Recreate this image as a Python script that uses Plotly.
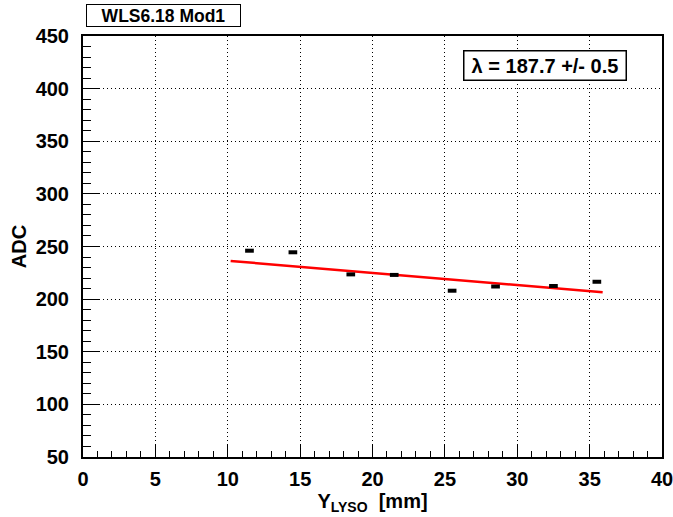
import plotly.graph_objects as go

# Data
y_pos = [11.5, 14.5, 18.5, 21.5, 25.5, 28.5, 32.5, 35.5]
adc = [246.0, 244.5, 223.5, 223.0, 208.0, 212.0, 212.5, 216.5]
x_err = [0.3] * 8
y_err = [1.0] * 8

fit_x = [10.2, 35.9]
fit_y = [236.3, 206.6]

title_text = "WLS6.18 Mod1"
fit_text = "λ = 187.7 +/- 0.5"

FONT = "Liberation Sans"

fig = go.Figure()

fig.add_trace(go.Scatter(
    x=fit_x, y=fit_y, mode="lines",
    line=dict(color="#ff0000", width=2.5),
    showlegend=False, hoverinfo="skip",
))

fig.add_trace(go.Scatter(
    x=y_pos, y=adc, mode="markers",
    marker=dict(size=1, color="black"),
    error_x=dict(type="data", array=x_err, color="black", thickness=4, width=0),
    error_y=dict(type="data", array=y_err, color="black", thickness=1.5, width=0),
    showlegend=False,
))

axis_common = dict(
    showline=True, linecolor="black", linewidth=2, mirror=True,
    ticks="inside", tickcolor="black", tickwidth=1,
    showgrid=True, gridcolor="black", griddash="1px,3px", gridwidth=1,
    zeroline=False, automargin=False, ticklabeloverflow="allow",
    tickfont=dict(family=FONT, size=20, color="black", weight="bold"),
)

fig.update_xaxes(
    range=[0, 40], tickmode="linear", tick0=0, dtick=5, ticklen=12,
    minor=dict(ticks="inside", dtick=1, ticklen=6, tickcolor="black", showgrid=False),
    title=dict(text="Y<sub>LYSO</sub>  [mm]", font=dict(family=FONT, size=20, color="black", weight="bold"), standoff=4),
    ticklabelstandoff=3,
    **axis_common,
)
fig.update_yaxes(
    range=[50, 450], tickmode="linear", tick0=50, dtick=50, ticklen=16,
    minor=dict(ticks="inside", dtick=10, ticklen=8, tickcolor="black", showgrid=False),
    title=dict(text="ADC", font=dict(family=FONT, size=20, color="black", weight="bold"), standoff=4),
    ticklabelstandoff=8,
    **axis_common,
)

fig.add_annotation(
    xref="paper", yref="paper", x=0.005, y=1.0, yshift=9,
    xanchor="left", yanchor="bottom",
    text=title_text, showarrow=False,
    font=dict(family=FONT, size=17.5, color="black", weight="bold"),
    bordercolor="black", borderwidth=1, borderpad=1, bgcolor="white",
    width=151, height=19,
)

fig.add_annotation(
    xref="paper", yref="paper", x=0.9396, y=0.931,
    xanchor="right", yanchor="middle",
    text=fit_text, showarrow=False,
    font=dict(family=FONT, size=20, color="black", weight="bold"),
    bordercolor="black", borderwidth=1.5, borderpad=3, bgcolor="white",
    width=155, height=22,
)

fig.update_layout(
    width=673, height=517,
    margin=dict(l=83, r=11, t=36, b=60),
    paper_bgcolor="white", plot_bgcolor="white",
)

fig.write_html("out.html")
